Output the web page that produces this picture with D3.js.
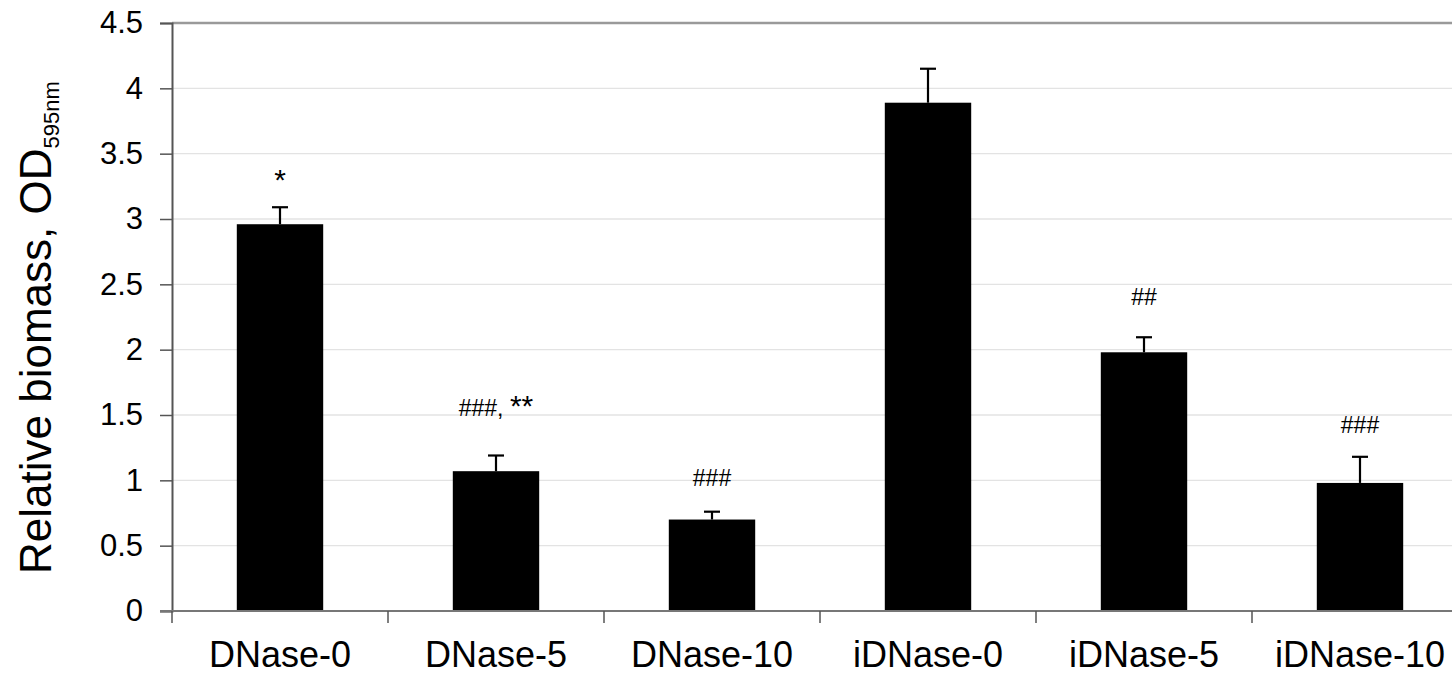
<!DOCTYPE html>
<html>
<head>
<meta charset="utf-8">
<script src="https://cdn.jsdelivr.net/npm/d3@7"></script>
<style>
  html, body { margin: 0; padding: 0; background: #fff; }
  svg text { font-family: "Liberation Sans", Arial, sans-serif; fill: #000; }
</style>
</head>
<body>
<svg id="chart" width="1452" height="675"></svg>
<script>
// ---- data ----
const categories = ["DNase-0", "DNase-5", "DNase-10", "iDNase-0", "iDNase-5", "iDNase-10"];
const values = [2.96, 1.07, 0.70, 3.89, 1.98, 0.98];
const errors = [0.13, 0.12, 0.06, 0.26, 0.115, 0.20];
const annotations = ["*", "###, **", "###", "", "##", "###"];
const annotationLevels = [3.22, 1.49, 0.96, null, 2.34, 1.36];
const yTicks = [0, 0.5, 1, 1.5, 2, 2.5, 3, 3.5, 4, 4.5];
const yTickLabels = ["0", "0.5", "1", "1.5", "2", "2.5", "3", "3.5", "4", "4.5"];

(function () {
// ---- layout ----
const svg = d3.select("#chart");
const mLeft = 172, mRight = 1468, mTop = 23, mBottom = 611;

const x = d3.scaleBand().domain(categories).range([mLeft, mRight]).paddingInner(0.6).paddingOuter(0.3);
const xb = d3.scaleBand().domain(categories).range([mLeft, mRight]);
const y = d3.scaleLinear().domain([0, 4.5]).range([mBottom, mTop]);

// gridlines
svg.append("g").selectAll("line").data(yTicks.filter(d => d > 0 && d < 4.5)).join("line")
  .attr("x1", mLeft).attr("x2", mRight)
  .attr("y1", d => y(d)).attr("y2", d => y(d))
  .attr("stroke", "#e3e3e3").attr("stroke-width", 1.3);

// top border
svg.append("line").attr("x1", mLeft).attr("x2", mRight).attr("y1", y(4.5)).attr("y2", y(4.5))
  .attr("stroke", "#9a9a9a").attr("stroke-width", 2.4);

// bars
svg.append("g").selectAll("rect").data(values).join("rect")
  .attr("x", (d, i) => x(categories[i]))
  .attr("width", x.bandwidth())
  .attr("y", d => y(d))
  .attr("height", d => y(0) - y(d))
  .attr("fill", "#000");

// error bars (upward only)
const eg = svg.append("g").attr("stroke", "#000").attr("stroke-width", 2.2);
values.forEach((v, i) => {
  const cx = x(categories[i]) + x.bandwidth() / 2;
  eg.append("line").attr("x1", cx).attr("x2", cx).attr("y1", y(v)).attr("y2", y(v + errors[i]));
  eg.append("line").attr("x1", cx - 8).attr("x2", cx + 8).attr("y1", y(v + errors[i])).attr("y2", y(v + errors[i]));
});

// y axis
const yAxis = d3.axisLeft(y).tickValues(yTicks).tickFormat((d, i) => yTickLabels[i]).tickSize(12).tickPadding(17);
const yg = svg.append("g").attr("transform", `translate(${mLeft},0)`).call(yAxis);
yg.select(".domain").attr("stroke", "#555").attr("stroke-width", 2);
yg.selectAll(".tick line").attr("stroke", "#555").attr("stroke-width", 1.5);
yg.selectAll(".tick text").attr("font-size", 31).attr("font-family", "Liberation Sans, Arial, sans-serif");

// x axis line and ticks at boundaries
svg.append("line").attr("x1", mLeft - 12).attr("x2", mRight).attr("y1", mBottom).attr("y2", mBottom)
  .attr("stroke", "#777").attr("stroke-width", 1.8);
const bounds = categories.map(c => xb(c));
svg.append("g").selectAll("line").data(bounds).join("line")
  .attr("x1", d => d).attr("x2", d => d).attr("y1", mBottom).attr("y2", mBottom + 12)
  .attr("stroke", "#555").attr("stroke-width", 1.5);

// x labels
svg.append("g").selectAll("text").data(categories).join("text")
  .attr("x", d => xb(d) + xb.bandwidth() / 2).attr("y", 667)
  .attr("text-anchor", "middle").attr("font-size", 36).text(d => d);

// annotations: '#' runs smaller, '*' runs larger
const ag = svg.append("g");
annotations.forEach((txt, i) => {
  if (!txt) return;
  const t = ag.append("text")
    .attr("x", x(categories[i]) + x.bandwidth() / 2)
    .attr("y", y(annotationLevels[i]))
    .attr("text-anchor", "middle");
  (txt.match(/\*+|[^*]+/g) || []).forEach(run => {
    t.append("tspan").attr("font-size", run[0] === "*" ? 30 : 23).text(run);
  });
});

// y title
const title = svg.append("text")
  .attr("transform", `translate(51,574) rotate(-90)`)
  .attr("text-anchor", "start").attr("font-size", 44);
title.append("tspan").text("Relative biomass, OD");
title.append("tspan").attr("font-size", 22).attr("dy", 8).text("595nm");
})();
</script>
</body>
</html>
